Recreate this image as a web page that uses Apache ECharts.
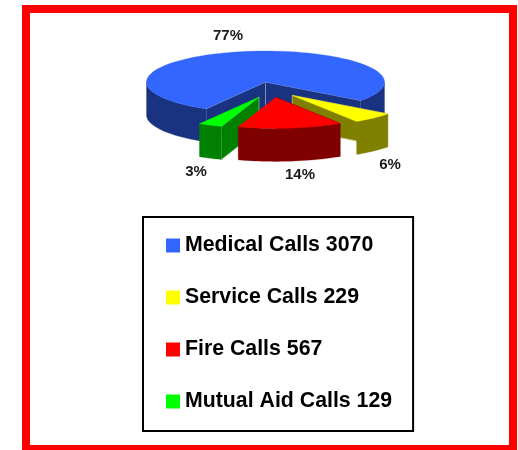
<!DOCTYPE html>
<html>
<head>
<meta charset="utf-8">
<style>
  html, body { margin: 0; padding: 0; background: #fff; }
  #main { width: 518px; height: 450px; }
</style>
<script src="https://cdn.jsdelivr.net/npm/echarts@6/dist/echarts.min.js"></script>
</head>
<body>
<div id="main"></div>
<script>
const categories = ['Medical Calls', 'Service Calls', 'Fire Calls', 'Mutual Aid Calls'];
const calls = [3070, 229, 567, 129];
const percentLabels = ['77%', '6%', '14%', '3%'];

const topColors = ['#3366ff', '#ffff00', '#ff0000', '#00ff00'];
const wallColors = ['#1a3380', '#808000', '#800000', '#008000'];
const seamColors = ['#8c99c0', '#c0c080', '#800000', '#80c080'];
const sliceShifts = [[0, 0], [26.8, 13.4], [10.2, 15.4], [-6.5, 15]];
const labelSpots = [[228, 36], [390, 165], [300, 175], [196, 172]];
const drawOrder = [1, 2, 4, 3];

const cx = 265.5, cy = 82, rx = 119, ry = 31, depth = 33;
const startDeg = 120;
const total = calls.reduce((a, b) => a + b, 0);

const myChart = echarts.init(document.getElementById('main'));

function rim(deg, sx, sy, dy) {
    const t = deg * Math.PI / 180;
    return [cx + sx + rx * Math.cos(t), cy + sy + dy + ry * Math.sin(t)];
}

function arcPoints(a0, a1, sx, sy, dy) {
    const pts = [];
    const n = Math.max(2, Math.ceil(Math.abs(a1 - a0) / 2));
    for (let i = 0; i <= n; i++) {
        pts.push(rim(a0 + (a1 - a0) * i / n, sx, sy, dy));
    }
    return pts;
}

function poly(points, fill, stroke) {
    return {
        type: 'polygon',
        shape: { points: points },
        style: { fill: fill, stroke: stroke || fill, lineWidth: stroke ? 0.8 : 0.3 }
    };
}

// 切片的墙面 radial wall between the centre and one rim angle
function radialWall(deg, sx, sy, i) {
    const c = [cx + sx, cy + sy];
    const e = rim(deg, sx, sy, 0);
    return poly([c, e, [e[0], e[1] + depth], [c[0], c[1] + depth]], wallColors[i], seamColors[i]);
}

// the part of the outer rim wall that faces the viewer (0..180 deg, mod 360)
function rimWalls(a0, a1, sx, sy, i) {
    const out = [];
    for (let k = 0; k < 2; k++) {
        const lo = Math.max(a0, k * 360);
        const hi = Math.min(a1, k * 360 + 180);
        if (hi > lo) {
            const topEdge = arcPoints(lo, hi, sx, sy, 0);
            const lowEdge = arcPoints(hi, lo, sx, sy, depth);
            out.push(poly(topEdge.concat(lowEdge), wallColors[i]));
        }
    }
    return out;
}

function renderSlice(i, a0) {
    return function (params, api) {
        const sx = sliceShifts[i][0], sy = sliceShifts[i][1];
        const children = [];
        const end = a0 + api.value(0) / total * 360;
        if (i === 0) {
            // notch walls of the big slice are seen from inside
            children.push(radialWall(end, sx, sy, i));
            children.push(radialWall(a0, sx, sy, i));
        } else {
            children.push(radialWall(a0, sx, sy, i));
        }
        children.push.apply(children, rimWalls(a0, end, sx, sy, i));
        const top = [[cx + sx, cy + sy]].concat(arcPoints(a0, end, sx, sy, 0));
        children.push(poly(top, topColors[i]));
        children.push({
            type: 'text',
            style: {
                text: percentLabels[i],
                x: labelSpots[i][0],
                y: labelSpots[i][1],
                align: 'center',
                verticalAlign: 'middle',
                fill: '#1a1a1a',
                font: 'bold 15px "Liberation Sans", Arial, sans-serif'
            }
        });
        return { type: 'group', children: children };
    };
}

const legendNames = categories.map((c, i) => c + ' ' + calls[i]);

let cursor = startDeg;
const series = categories.map((c, i) => {
    const a0 = cursor;
    cursor = a0 + calls[i] / total * 360;
    return {
        type: 'custom',
        name: legendNames[i],
        coordinateSystem: 'none',
        z: drawOrder[i],
        silent: true,
        animation: false,
        itemStyle: { color: topColors[i] },
        data: [[calls[i]]],
        renderItem: renderSlice(i, a0)
    };
});

const option = {
    animation: false,
    backgroundColor: '#ffffff',
    graphic: [{
        type: 'rect',
        z: 0,
        shape: { x: 26, y: 9, width: 487, height: 440 },
        style: { fill: 'none', stroke: '#ff0000', lineWidth: 8 }
    }],
    legend: {
        orient: 'vertical',
        left: 143,
        top: 217,
        selectedMode: false,
        icon: 'rect',
        itemWidth: 14,
        itemHeight: 14,
        itemGap: 31,
        padding: [18, 21, 19, 23],
        borderColor: '#000000',
        borderWidth: 2,
        data: legendNames.map((n, i) => ({ name: n, itemStyle: { color: topColors[i] } })),
        textStyle: {
            color: '#000000',
            fontFamily: '"Liberation Sans", Arial, sans-serif',
            fontWeight: 'bold',
            fontSize: 21.3
        }
    },
    series: series
};
myChart.setOption(option);
</script>
</body>
</html>
